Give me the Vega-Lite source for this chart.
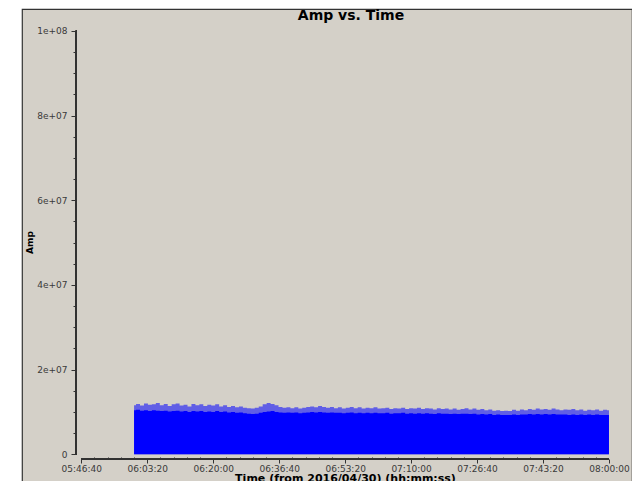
{
  "$schema": "https://vega.github.io/schema/vega-lite/v6.json",
  "width": 610,
  "height": 481,
  "autosize": {"type": "none"},
  "padding": {"left": 22, "top": 9, "right": 0, "bottom": 0},
  "background": "white",
  "config": {
    "view": {"fill": "#d4d0c8", "stroke": "#333333", "strokeWidth": 1.2},
    "font": "DejaVu Sans"
  },
  "title": {
    "text": "Amp vs. Time",
    "font": "DejaVu Sans",
    "fontSize": 14,
    "fontWeight": "bold",
    "color": "black",
    "anchor": "middle",
    "frame": "group",
    "baseline": "alphabetic",
    "dx": 24,
    "offset": -25
  },
  "data": {
    "values": [
      {"t":21600,"body":1.04e7,"peak":1.16e7},{"t":21660,"body":1.05e7,"peak":1.19e7},{"t":21720,"body":1.03e7,"peak":1.15e7},{"t":21780,"body":1.04e7,"peak":1.20e7},{"t":21840,"body":1.02e7,"peak":1.17e7},{"t":21900,"body":1.04e7,"peak":1.18e7},{"t":21960,"body":1.03e7,"peak":1.21e7},{"t":22020,"body":1.02e7,"peak":1.16e7},{"t":22080,"body":1.03e7,"peak":1.19e7},{"t":22140,"body":1.01e7,"peak":1.14e7},
      {"t":22200,"body":1.02e7,"peak":1.18e7},{"t":22260,"body":1.03e7,"peak":1.20e7},{"t":22320,"body":1.01e7,"peak":1.15e7},{"t":22380,"body":1.02e7,"peak":1.17e7},{"t":22440,"body":1.00e7,"peak":1.13e7},{"t":22500,"body":1.02e7,"peak":1.19e7},{"t":22560,"body":1.01e7,"peak":1.16e7},{"t":22620,"body":1.02e7,"peak":1.18e7},{"t":22680,"body":1.00e7,"peak":1.14e7},{"t":22740,"body":1.01e7,"peak":1.17e7},
      {"t":22800,"body":1.00e7,"peak":1.15e7},{"t":22860,"body":1.02e7,"peak":1.18e7},{"t":22920,"body":1.00e7,"peak":1.13e7},{"t":22980,"body":1.01e7,"peak":1.16e7},{"t":23040,"body":9.9e6,"peak":1.12e7},{"t":23100,"body":1.00e7,"peak":1.14e7},{"t":23160,"body":9.8e6,"peak":1.11e7},{"t":23220,"body":9.9e6,"peak":1.13e7},{"t":23280,"body":9.7e6,"peak":1.10e7},{"t":23340,"body":9.6e6,"peak":1.09e7},
      {"t":23400,"body":9.5e6,"peak":1.08e7},{"t":23460,"body":9.6e6,"peak":1.10e7},{"t":23520,"body":9.8e6,"peak":1.13e7},{"t":23580,"body":1.00e7,"peak":1.18e7},{"t":23640,"body":1.01e7,"peak":1.21e7},{"t":23700,"body":1.02e7,"peak":1.19e7},{"t":23760,"body":1.00e7,"peak":1.16e7},{"t":23820,"body":9.9e6,"peak":1.12e7},{"t":23880,"body":9.8e6,"peak":1.10e7},{"t":23940,"body":9.9e6,"peak":1.11e7},
      {"t":24000,"body":9.8e6,"peak":1.09e7},{"t":24060,"body":9.9e6,"peak":1.11e7},{"t":24120,"body":9.7e6,"peak":1.08e7},{"t":24180,"body":9.8e6,"peak":1.10e7},{"t":24240,"body":9.9e6,"peak":1.12e7},{"t":24300,"body":1.00e7,"peak":1.13e7},{"t":24360,"body":9.9e6,"peak":1.11e7},{"t":24420,"body":1.00e7,"peak":1.14e7},{"t":24480,"body":9.9e6,"peak":1.12e7},{"t":24540,"body":9.8e6,"peak":1.10e7},
      {"t":24600,"body":9.9e6,"peak":1.12e7},{"t":24660,"body":9.8e6,"peak":1.09e7},{"t":24720,"body":9.8e6,"peak":1.11e7},{"t":24780,"body":9.7e6,"peak":1.08e7},{"t":24840,"body":9.8e6,"peak":1.10e7},{"t":24900,"body":9.9e6,"peak":1.12e7},{"t":24960,"body":9.7e6,"peak":1.09e7},{"t":25020,"body":9.8e6,"peak":1.11e7},{"t":25080,"body":9.7e6,"peak":1.08e7},{"t":25140,"body":9.8e6,"peak":1.10e7},
      {"t":25200,"body":9.7e6,"peak":1.09e7},{"t":25260,"body":9.8e6,"peak":1.11e7},{"t":25320,"body":9.7e6,"peak":1.08e7},{"t":25380,"body":9.7e6,"peak":1.09e7},{"t":25440,"body":9.8e6,"peak":1.10e7},{"t":25500,"body":9.6e6,"peak":1.07e7},{"t":25560,"body":9.7e6,"peak":1.09e7},{"t":25620,"body":9.7e6,"peak":1.08e7},{"t":25680,"body":9.8e6,"peak":1.10e7},{"t":25740,"body":9.6e6,"peak":1.07e7},
      {"t":25800,"body":9.7e6,"peak":1.09e7},{"t":25860,"body":9.6e6,"peak":1.08e7},{"t":25920,"body":9.7e6,"peak":1.10e7},{"t":25980,"body":9.6e6,"peak":1.07e7},{"t":26040,"body":9.7e6,"peak":1.09e7},{"t":26100,"body":9.6e6,"peak":1.08e7},{"t":26160,"body":9.5e6,"peak":1.06e7},{"t":26220,"body":9.7e6,"peak":1.09e7},{"t":26280,"body":9.6e6,"peak":1.07e7},{"t":26340,"body":9.6e6,"peak":1.08e7},
      {"t":26400,"body":9.5e6,"peak":1.06e7},{"t":26460,"body":9.6e6,"peak":1.08e7},{"t":26520,"body":9.5e6,"peak":1.05e7},{"t":26580,"body":9.6e6,"peak":1.07e7},{"t":26640,"body":9.6e6,"peak":1.09e7},{"t":26700,"body":9.5e6,"peak":1.06e7},{"t":26760,"body":9.6e6,"peak":1.08e7},{"t":26820,"body":9.4e6,"peak":1.05e7},{"t":26880,"body":9.5e6,"peak":1.07e7},{"t":26940,"body":9.4e6,"peak":1.04e7},
      {"t":27000,"body":9.5e6,"peak":1.06e7},{"t":27060,"body":9.3e6,"peak":1.03e7},{"t":27120,"body":9.4e6,"peak":1.04e7},{"t":27180,"body":9.3e6,"peak":1.02e7},{"t":27240,"body":9.3e6,"peak":1.03e7},{"t":27300,"body":9.3e6,"peak":1.02e7},{"t":27360,"body":9.4e6,"peak":1.05e7},{"t":27420,"body":9.3e6,"peak":1.03e7},{"t":27480,"body":9.4e6,"peak":1.06e7},{"t":27540,"body":9.4e6,"peak":1.04e7},
      {"t":27600,"body":9.5e6,"peak":1.07e7},{"t":27660,"body":9.4e6,"peak":1.05e7},{"t":27720,"body":9.5e6,"peak":1.08e7},{"t":27780,"body":9.4e6,"peak":1.06e7},{"t":27840,"body":9.5e6,"peak":1.07e7},{"t":27900,"body":9.4e6,"peak":1.05e7},{"t":27960,"body":9.5e6,"peak":1.08e7},{"t":28020,"body":9.4e6,"peak":1.06e7},{"t":28080,"body":9.4e6,"peak":1.04e7},{"t":28140,"body":9.4e6,"peak":1.06e7},
      {"t":28200,"body":9.3e6,"peak":1.05e7},{"t":28260,"body":9.4e6,"peak":1.07e7},{"t":28320,"body":9.3e6,"peak":1.04e7},{"t":28380,"body":9.4e6,"peak":1.06e7},{"t":28440,"body":9.3e6,"peak":1.03e7},{"t":28500,"body":9.4e6,"peak":1.05e7},{"t":28560,"body":9.3e6,"peak":1.04e7},{"t":28620,"body":9.4e6,"peak":1.06e7},{"t":28680,"body":9.3e6,"peak":1.03e7},{"t":28740,"body":9.3e6,"peak":1.05e7},
      {"t":28800,"body":9.3e6,"peak":1.04e7}
    ]
  },
  "resolve": {"axis": {"x": "independent", "y": "independent"}},
  "layer": [
    {
      "mark": {"type": "area", "color": "#0000ff", "opacity": 0.55, "interpolate": "step"},
      "encoding": {
        "x": {
          "field": "t", "type": "quantitative",
          "scale": {"domain": [19901, 29149], "nice": false, "zero": false},
          "axis": {
            "orient": "bottom", "offset": -31, "domain": false, "grid": false,
            "values": [20800, 21800, 22800, 23800, 24800, 25800, 26800, 27800, 28800],
            "labelExpr": "utcFormat(datum.value * 1000, '%H:%M:%S')",
            "tickSize": 4, "tickColor": "#333333", "tickWidth": 1,
            "labelFont": "DejaVu Sans", "labelFontSize": 9, "labelColor": "#3a3a3a",
            "labelPadding": 1, "labelFlush": false, "labelOverlap": false,
            "title": "Time (from 2016/04/30) (hh:mm:ss)",
            "titleFont": "DejaVu Sans", "titleFontSize": 11, "titleFontWeight": "bold", "titleColor": "black",
            "titleX": 323, "titleY": 22.5, "titleBaseline": "alphabetic", "titleAlign": "center"
          }
        },
        "y": {
          "field": "peak", "type": "quantitative",
          "scale": {"domain": [-8434000, 105197000], "nice": false, "zero": false},
          "axis": {
            "orient": "left", "offset": -54, "domain": false, "grid": false,
            "values": [0, 20000000, 40000000, 60000000, 80000000, 100000000],
            "labelExpr": "datum.value == 0 ? '0' : (datum.value == 100000000 ? '1e+08' : format(datum.value / 10000000, 'd') + 'e+07')",
            "tickSize": 5, "tickColor": "#333333", "tickWidth": 1,
            "labelFont": "DejaVu Sans", "labelFontSize": 9, "labelColor": "#3a3a3a",
            "labelPadding": 4, "labelFlush": false, "labelOverlap": false,
            "title": "Amp",
            "titleFont": "DejaVu Sans", "titleFontSize": 9, "titleFontWeight": "bold", "titleColor": "black",
            "titleAngle": -90, "titleX": -46.5, "titleY": 233, "titleBaseline": "middle", "titleAlign": "center"
          }
        },
        "y2": {"datum": 0}
      }
    },
    {
      "mark": {"type": "area", "color": "#0000ff", "opacity": 1, "interpolate": "step"},
      "encoding": {
        "x": {
          "field": "t", "type": "quantitative",
          "scale": {"domain": [19901, 29149], "nice": false, "zero": false},
          "axis": {
            "orient": "bottom", "offset": -31, "domain": false, "grid": false, "labels": false, "title": null,
            "values": [21000, 21200, 21400, 21600, 22000, 22200, 22400, 22600, 23000, 23200, 23400, 23600, 24000, 24200, 24400, 24600, 25000, 25200, 25400, 25600, 26000, 26200, 26400, 26600, 27000, 27200, 27400, 27600, 28000, 28200, 28400, 28600],
            "tickSize": -2, "tickColor": "#333333", "tickWidth": 1
          }
        },
        "y": {
          "field": "body", "type": "quantitative",
          "scale": {"domain": [-8434000, 105197000], "nice": false, "zero": false},
          "axis": {
            "orient": "left", "offset": -54, "domain": false, "grid": false, "labels": false, "title": null,
            "values": [5000000, 10000000, 15000000, 25000000, 30000000, 35000000, 45000000, 50000000, 55000000, 65000000, 70000000, 75000000, 85000000, 90000000, 95000000],
            "tickSize": 3, "tickColor": "#333333", "tickWidth": 1
          }
        },
        "y2": {"datum": 0}
      }
    },
    {
      "mark": {"type": "rule", "color": "#333333", "strokeWidth": 1},
      "encoding": {
        "x": {"datum": 20720, "type": "quantitative", "scale": {"domain": [19901, 29149], "nice": false, "zero": false}, "axis": null},
        "y": {"datum": 0, "type": "quantitative", "scale": {"domain": [-8434000, 105197000], "nice": false, "zero": false}, "axis": null},
        "y2": {"datum": 100000000}
      }
    },
    {
      "mark": {"type": "rule", "color": "#333333", "strokeWidth": 1},
      "encoding": {
        "x": {"datum": 20800, "type": "quantitative", "scale": {"domain": [19901, 29149], "nice": false, "zero": false}, "axis": null},
        "x2": {"datum": 28800},
        "y": {"datum": -1110000, "type": "quantitative", "scale": {"domain": [-8434000, 105197000], "nice": false, "zero": false}, "axis": null}
      }
    }
  ]
}
